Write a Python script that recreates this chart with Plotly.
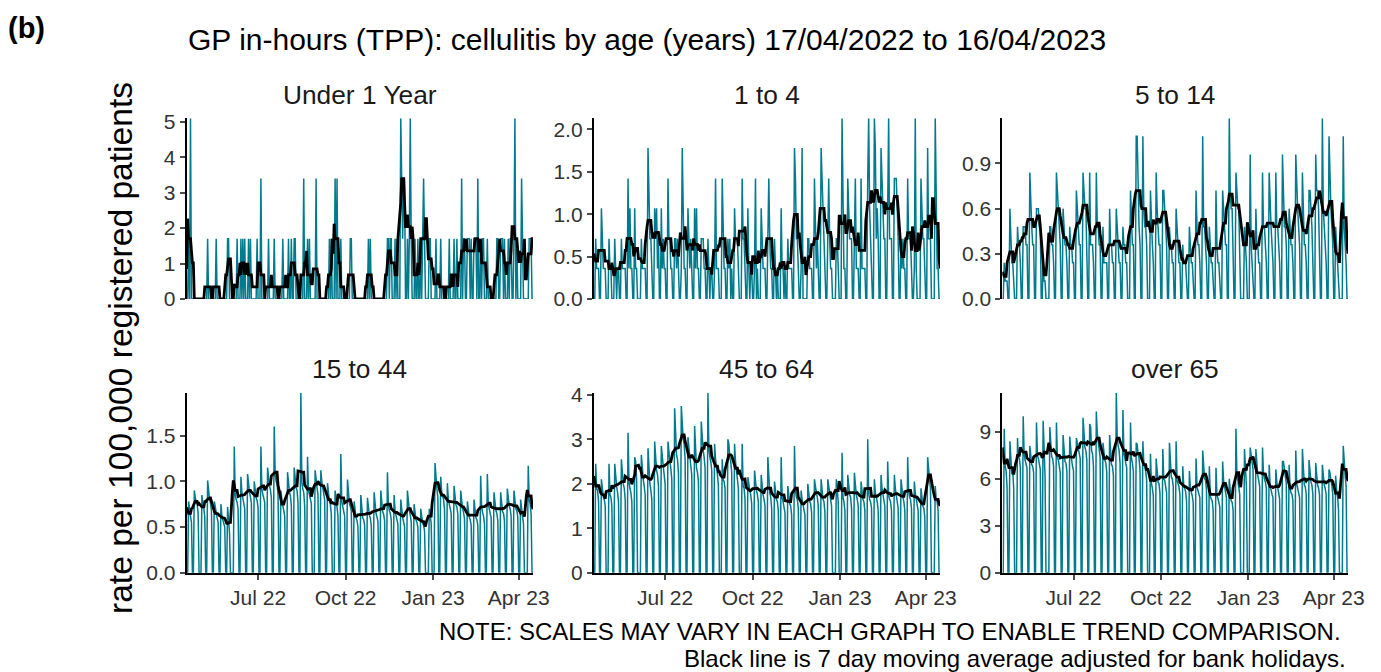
import pandas as pd
import plotly.graph_objects as go

# ---------------- data ----------------
START_DATE = "2022-04-17"
N_DAYS = 365
BANK_HOLIDAYS = ["2022-04-18", "2022-05-02", "2022-06-02", "2022-06-03", "2022-08-29",
                 "2022-09-19", "2022-12-26", "2022-12-27", "2023-01-02", "2023-04-07", "2023-04-10"]

PANEL_TITLES = ["Under 1 Year", "1 to 4", "5 to 14", "15 to 44", "45 to 64", "over 65"]

# daily rates per 100,000, one string per week (Sun..Sat), last entry = final Sunday
UNDER_1 = [
    "0 0 1.7 0 5.1 0 0", "0 0 0 0 0 0 0", "0 0 0 0 0 0 0", "0 1.7 0 0 0 0 0",
    "0 0 0 1.7 0 0 0", "0 0 0 0 0 0 0", "0 1.7 1.7 0 0 0 0", "0 0 0 0 1.7 0 0",
    "0 1.7 0 1.7 0 1.7 0", "0 0 1.7 0 1.7 0 0", "0 0 0 0 1.7 0 0", "0 3.4 0 0 0 0 0",
    "0 0 1.7 0 0 0 0", "0 1.7 0 0 0 0 0", "0 0 0 1.7 0 0 0", "0 0 1.7 0 0 1.7 0",
    "0 1.7 1.7 0 0 0 0", "0 0 0 0 3.4 0 0", "0 1.7 0 1.7 0 0 0", "0 0 0 3.4 0 0 0",
    "0 0 0 0 0 0 0", "0 0 0 1.7 0 1.7 0", "0 0 3.4 0 3.4 0 0", "0 1.7 0 0 0 0 0",
    "0 0 0 0 1.7 1.7 0", "0 0 0 0 0 0 0", "0 0 0 0 0 0 0", "0 0 1.7 0 1.7 0 0",
    "0 0 0 0 0 0 0", "0 0 0 0 0 0 0", "0 1.7 1.7 0 1.7 1.7 0", "0 0 1.7 0 1.7 0 0",
    "0 5.1 3.4 1.7 3.4 3.4 0", "0 1.7 0 1.7 5.1 1.7 0", "0 0 1.7 0 0 1.7 0", "0 1.7 0 1.7 3.4 1.7 0",
    "0 0 0 1.7 1.7 0 0", "0 0 0 1.7 0 0 0", "0 1.7 0 0 0 0 0", "0 0 0 1.7 0 0 0",
    "0 1.7 0 0 1.7 0 0", "0 0 3.4 0 1.7 1.7 0", "0 1.7 1.7 1.7 0 1.7 0", "0 1.7 1.7 1.7 0 3.4 0",
    "0 1.7 0 1.7 1.7 0 0", "0 1.7 0 0 0 0 0", "0 0 0 0 1.7 1.7 0", "0 1.7 1.7 1.7 0 1.7 0",
    "0 0 1.7 0 1.7 1.7 0", "0 1.7 5.1 0 1.7 0 0", "0 0 3.4 1.7 0 0 0", "0 0 0 1.7 1.7 1.7 0",
    "0",
]

AGE_1_4 = [
    "0 0 0.71 0.36 0.36 0.36 0", "0 1.07 0.71 0.36 0.36 0.36 0", "0 0 0.71 0.36 0.36 0 0",
    "0 0.71 0.36 0 0.36 0.36 0", "0 0.71 0.36 0.36 0.36 0.36 0", "0 1.42 0.36 1.07 0.36 0.36 0",
    "0 1.07 0.36 0.36 0 0 0", "0 0.71 0.36 0.36 0.36 0.36 0", "0 1.78 1.07 0.71 0.71 0.36 0",
    "0 1.07 0.71 1.07 0.36 0.71 0", "0 1.07 0.36 0.71 0.36 0.36 0", "0 1.42 0.71 0.71 0.36 0.36 0",
    "0 0.71 0.71 0.36 0.71 0.36 0", "0 0.36 1.78 0.71 0.36 0.36 0", "0 1.07 0.71 0.36 0.71 0.36 0",
    "0 1.07 0.36 1.07 0.36 0.36 0", "0 0.71 0.71 0.71 0.36 0.36 0", "0 0.71 0.36 0 0.36 0.36 0",
    "0 0.36 1.42 0.36 0.36 0.36 0", "0 0 1.42 0.71 0.36 0.36 0", "0 0.71 0.36 0.71 0 0.36 0",
    "0 1.07 0.71 0.71 0.71 0.36 0", "0 0 1.42 0.71 0.71 0.36 0", "0 1.07 0.36 0 0.36 0.36 0",
    "0 0.36 1.42 0 0.36 0 0", "0 1.07 0.71 0.36 0.36 0.36 0", "0 0.71 1.42 0.71 0.36 0.36 0",
    "0 0.71 0.36 0 0.36 0 0", "0 1.07 0.36 0.36 0 0.36 0", "0 0.71 0.36 0.36 0.36 0.36 0",
    "0 1.78 1.42 0.71 0.71 0.36 0", "0 0.36 1.78 0 0 0 0", "0 0.71 0.71 0.36 0.36 0.36 0",
    "0 1.42 0.71 0.36 0.71 0.36 0", "0 1.78 1.42 1.07 0.71 0.36 0", "0 1.07 1.42 0.71 0.36 0.36 0",
    "0 0 0 0.71 0.71 0.36 0", "0 0 2.13 0.71 0.36 0.36 0", "0 1.42 1.07 0.71 0.71 0.71 0",
    "0 0.71 1.42 0.36 0.36 0.36 0", "0 1.42 0.36 0.36 0.36 0.36 0", "0 1.42 2.13 1.07 0.71 0.36 0",
    "0 2.13 1.78 0.71 1.07 0.71 0", "0 1.78 1.42 1.07 0.71 0.71 0", "0 1.07 2.13 0.71 0.71 0.71 0",
    "0 1.42 1.42 1.42 1.07 0.71 0", "0 0.71 0.36 0.71 0.36 0.36 0", "0 1.42 0.71 0.71 0.71 0.36 0",
    "0 0.36 2.13 0.36 0 0 0", "0 1.42 1.07 0.71 0.71 0.36 0", "0 1.78 0.71 0.71 0.71 0 0",
    "0 0 2.13 0.71 0.36 0.36 0", "0",
]

AGE_5_14 = [
    "0 0 0.24 0.12 0.12 0.12 0", "0 0.6 0.36 0.24 0.24 0.12 0", "0 0 0.48 0.36 0.36 0.24 0",
    "0 0.48 0.48 0.48 0.36 0.36 0", "0 0.84 0.6 0.48 0.36 0.36 0", "0 0.6 0.6 0.6 0.48 0.48 0",
    "0 0.24 0.12 0.12 0 0 0", "0 0.48 0.48 0.36 0.36 0.24 0", "0 0.84 0.72 0.6 0.48 0.36 0",
    "0 0.6 0.48 0.36 0.36 0.24 0", "0 0.48 0.36 0.36 0.24 0.24 0", "0 0.72 0.6 0.48 0.36 0.36 0",
    "0 0.84 0.72 0.6 0.6 0.36 0", "0 0.84 0.36 0.36 0.36 0.24 0", "0 0.84 0.48 0.48 0.36 0.36 0",
    "0 0.48 0.24 0.24 0.24 0.24 0", "0 0.6 0.36 0.36 0.24 0.24 0", "0 0.6 0.48 0.36 0.24 0.24 0",
    "0 0.48 0.36 0.36 0.24 0.24 0", "0 0 0.72 0.48 0.36 0.36 0", "0 1.08 1.08 0.6 0.48 0.36 0",
    "0 1.08 0.6 0.48 0.48 0.36 0", "0 0 0.72 0.48 0.36 0.24 0", "0 0.84 0.6 0.48 0.36 0.36 0",
    "0 0.72 0.72 0.6 0.48 0.36 0", "0 0.48 0.36 0.36 0.24 0.24 0", "0 0.6 0.48 0.36 0.24 0.24 0",
    "0 0.36 0.24 0.24 0.24 0.12 0", "0 0.48 0.36 0.24 0.24 0.12 0", "0 0.72 0.48 0.36 0.36 0.24 0",
    "0 1.08 0.48 0.48 0.36 0.24 0", "0 0.48 0.36 0.24 0.24 0.12 0", "0 0.72 0.36 0.24 0.24 0.12 0",
    "0 0.72 0.6 0.48 0.36 0.36 0", "0 1.2 0.72 0.6 0.6 0.36 0", "0 0.84 0.72 0.6 0.6 0.36 0",
    "0 0 0 0.48 0.36 0.24 0", "0 0 0.96 0.36 0.24 0.12 0", "0 0.6 0.36 0.36 0.24 0.24 0",
    "0 0.84 0.48 0.48 0.36 0.24 0", "0 0.84 0.6 0.48 0.36 0.24 0", "0 0.84 0.48 0.48 0.36 0.24 0",
    "0 0.96 0.6 0.48 0.48 0.36 0", "0 0.6 0.48 0.36 0.36 0.24 0", "0 0.96 0.72 0.6 0.48 0.36 0",
    "0 0.84 0.48 0.36 0.36 0.24 0", "0 0.72 0.72 0.6 0.48 0.24 0", "0 0.96 0.72 0.72 0.6 0.36 0",
    "0 1.2 0.6 0.48 0.36 0.24 0", "0 1.08 0.72 0.6 0.48 0.36 0", "0 0.48 0.36 0.24 0.12 0 0",
    "0 0 1.08 0.48 0.36 0.24 0", "0",
]

AGE_15_44 = [
    "0 0 0.78 0.65 0.62 0.55 0", "0 0.9 0.82 0.78 0.75 0.65 0", "0 0 0.85 0.72 0.7 0.61 0",
    "0 1.01 0.85 0.8 0.76 0.68 0", "0 0.78 0.7 0.62 0.6 0.55 0", "0 0.75 0.62 0.58 0.55 0.5 0",
    "0 0.72 0.5 0.43 0 0 0", "0 1.38 0.85 0.8 0.77 0.7 0", "0 1.05 0.88 0.82 0.8 0.7 0",
    "0 1.08 0.95 0.88 0.83 0.76 0", "0 1.0 0.88 0.82 0.79 0.71 0", "0 1.38 0.92 0.86 0.82 0.77 0",
    "0 1.15 1.02 0.95 0.91 0.82 0", "0 1.6 1.08 1.0 0.97 0.85 0", "0 0.9 0.8 0.73 0.7 0.62 0",
    "0 1.1 0.95 0.88 0.84 0.73 0", "0 1.15 1.0 0.93 0.9 0.77 0", "0 1.97 1.0 0.92 0.88 0.73 0",
    "0 1.27 0.9 0.85 0.82 0.76 0", "0 0 1.12 0.98 0.93 0.85 0", "0 1.12 1.0 0.93 0.9 0.8 0",
    "0 0.98 0.85 0.78 0.75 0.64 0", "0 0 0.9 0.76 0.72 0.62 0", "0 1.3 0.78 0.72 0.68 0.62 0",
    "0 1.02 0.82 0.76 0.72 0.68 0", "0 0.78 0.65 0.6 0.57 0.5 0", "0 0.85 0.65 0.6 0.58 0.52 0",
    "0 0.82 0.68 0.63 0.6 0.52 0", "0 0.88 0.7 0.65 0.61 0.56 0", "0 0.9 0.72 0.67 0.64 0.57 0",
    "0 1.1 0.74 0.68 0.65 0.58 0", "0 0.85 0.68 0.64 0.6 0.53 0", "0 0.8 0.64 0.6 0.56 0.5 0",
    "0 0.9 0.73 0.68 0.63 0.56 0", "0 0.75 0.62 0.58 0.55 0.5 0", "0 0.7 0.58 0.54 0.52 0.46 0",
    "0 0 0 0.7 0.62 0.54 0", "0 0 1.2 0.98 0.92 0.82 0", "0 1.05 0.88 0.83 0.8 0.69 0",
    "0 0.98 0.8 0.75 0.72 0.65 0", "0 0.95 0.8 0.74 0.72 0.64 0", "0 0.9 0.75 0.7 0.66 0.59 0",
    "0 0.78 0.66 0.61 0.58 0.52 0", "0 0.8 0.65 0.6 0.58 0.52 0", "0 1.06 0.72 0.66 0.62 0.54 0",
    "0 1.08 0.75 0.7 0.67 0.6 0", "0 0.88 0.72 0.68 0.65 0.57 0", "0 0.88 0.73 0.67 0.65 0.57 0",
    "0 0.92 0.78 0.73 0.7 0.62 0", "0 0.9 0.76 0.7 0.68 0.61 0", "0 0.8 0.68 0.62 0.54 0 0",
    "0 0 1.17 0.8 0.75 0.64 0", "0",
]

AGE_45_64 = [
    "0 0 2.45 1.9 1.85 1.6 0", "0 2.1 1.8 1.7 1.65 1.5 0", "0 0 2.45 1.75 1.7 1.5 0",
    "0 2.45 2.1 1.95 1.8 1.6 0", "0 2.55 2.15 2.0 1.9 1.65 0", "0 3.15 2.05 1.9 1.8 1.6 0",
    "0 2.6 2.5 2.1 0 0 0", "0 2.65 2.3 2.1 1.95 1.75 0", "0 2.8 2.2 2.0 1.85 1.65 0",
    "0 2.95 2.6 2.3 2.2 1.95 0", "0 2.85 2.55 2.4 2.2 2.0 0", "0 2.95 2.6 2.5 2.35 2.1 0",
    "0 3.7 2.85 2.65 2.55 2.25 0", "0 3.75 3.3 3.0 2.9 2.55 0", "0 3.05 2.75 2.6 2.4 2.2 0",
    "0 3.3 2.55 2.35 2.25 2.05 0", "0 3.4 2.9 2.75 2.6 2.35 0", "0 4.05 2.8 2.6 2.5 2.3 0",
    "0 2.9 2.55 2.4 2.2 1.95 0", "0 0 2.55 2.1 2.05 1.9 0", "0 3.0 2.9 2.6 2.5 2.25 0",
    "0 2.9 2.5 2.3 2.15 1.9 0", "0 0 2.9 1.95 1.9 1.65 0", "0 2.15 1.95 1.85 1.75 1.55 0",
    "0 2.3 2.0 1.85 1.75 1.6 0", "0 2.2 1.9 1.75 1.65 1.5 0", "0 2.6 1.95 1.8 1.7 1.45 0",
    "0 2.05 1.8 1.65 1.6 1.4 0", "0 2.6 1.7 1.6 1.5 1.35 0", "0 1.95 1.7 1.55 1.5 1.3 0",
    "0 2.85 1.85 1.7 1.65 1.45 0", "0 1.85 1.65 1.5 1.45 1.3 0", "0 2.0 1.75 1.6 1.55 1.35 0",
    "0 2.1 1.9 1.8 1.7 1.5 0", "0 2.1 1.8 1.65 1.6 1.35 0", "0 2.1 1.95 1.75 1.7 1.5 0",
    "0 0 0 2.1 1.85 1.6 0", "0 0 2.7 1.7 1.6 1.4 0", "0 2.2 1.9 1.75 1.7 1.45 0",
    "0 2.25 1.85 1.75 1.65 1.5 0", "0 2.05 1.8 1.65 1.6 1.4 0", "0 3.0 1.8 1.65 1.6 1.45 0",
    "0 2.1 1.8 1.7 1.6 1.4 0", "0 2.2 1.9 1.75 1.65 1.5 0", "0 2.5 1.75 1.65 1.6 1.4 0",
    "0 2.2 1.9 1.7 1.65 1.45 0", "0 2.1 1.8 1.7 1.6 1.4 0", "0 2.6 1.85 1.7 1.65 1.45 0",
    "0 2.05 1.8 1.65 1.6 1.4 0", "0 1.9 1.65 1.5 1.45 1.25 0", "0 2.6 2.2 2.1 1.9 0 0",
    "0 0 1.95 1.65 1.6 1.4 0", "0",
]

OVER_65 = [
    "0 0 9.2 6.8 6.5 5.5 0", "0 8.4 6.9 6.3 6.5 5.4 0", "0 0 8.6 7.4 7.3 6.7 0",
    "0 10.0 7.6 7.2 7.0 6.7 0", "0 8.1 7.3 6.9 6.8 6.4 0", "0 9.6 7.5 7.3 7.0 6.6 0",
    "0 9.7 7.2 6.2 0 0 0", "0 9.3 8.2 7.4 7.3 6.8 0", "0 9.6 7.4 7.2 6.9 6.4 0",
    "0 8.8 7.6 7.1 7.0 6.5 0", "0 8.7 7.8 7.2 6.8 6.5 0", "0 8.6 8.3 8.1 7.7 7.3 0",
    "0 9.9 8.6 8.0 7.8 7.2 0", "0 9.5 9.3 7.8 7.6 6.8 0", "0 10.3 8.9 8.4 8.0 7.4 0",
    "0 8.3 7.6 7.2 7.0 6.4 0", "0 8.8 7.3 6.9 6.8 6.2 0", "0 11.5 8.6 8.1 7.8 7.0 0",
    "0 10.4 7.7 7.2 7.0 6.7 0", "0 0 9.6 7.3 7.0 6.5 0", "0 8.3 8.2 7.6 7.3 6.6 0",
    "0 8.4 7.0 6.7 6.5 5.9 0", "0 0 7.6 5.7 5.4 4.9 0", "0 7.3 6.1 5.8 5.7 5.1 0",
    "0 7.9 6.0 5.9 5.6 5.1 0", "0 8.3 6.6 6.1 6.0 5.5 0", "0 8.4 5.9 5.7 5.5 5.0 0",
    "0 6.8 5.6 5.3 5.2 4.6 0", "0 6.5 5.4 5.2 4.9 4.5 0", "0 7.3 5.5 5.3 5.1 4.8 0",
    "0 7.8 6.5 6.0 5.9 5.3 0", "0 6.8 4.9 4.7 4.6 4.0 0", "0 6.7 5.0 4.6 4.5 4.2 0",
    "0 7.1 5.9 5.5 5.2 4.8 0", "0 6.0 4.9 4.6 4.5 4.0 0", "0 9.2 6.4 5.9 5.5 5.0 0",
    "0 0 0 7.9 6.3 5.6 0", "0 0 8.0 7.4 7.2 6.6 0", "0 7.9 6.5 6.2 5.9 5.5 0",
    "0 8.0 6.3 6.0 5.8 5.4 0", "0 6.9 5.6 5.2 5.0 4.8 0", "0 6.6 5.8 5.3 5.1 4.7 0",
    "0 7.1 7.1 6.5 6.1 5.7 0", "0 6.9 5.4 5.1 5.0 4.6 0", "0 7.8 5.7 5.4 5.3 4.8 0",
    "0 7.9 6.0 5.6 5.5 5.0 0", "0 7.2 6.4 5.8 5.6 5.0 0", "0 7.0 6.0 5.6 5.4 5.0 0",
    "0 6.9 6.1 5.6 5.4 5.0 0", "0 6.6 6.4 5.9 5.6 5.0 0", "0 6.2 5.3 4.9 4.0 0 0",
    "0 0 8.1 6.6 6.2 5.5 0", "0",
]

PANEL_DATA = [UNDER_1, AGE_1_4, AGE_5_14, AGE_15_44, AGE_45_64, OVER_65]

Y_TICKS = [[0, 1, 2, 3, 4, 5], [0, 0.5, 1.0, 1.5, 2.0], [0, 0.3, 0.6, 0.9],
           [0, 0.5, 1.0, 1.5], [0, 1, 2, 3, 4], [0, 3, 6, 9]]
Y_TICK_FORMAT = ["d", ".1f", ".1f", ".1f", "d", "d"]

X_TICK_VALS = ["2022-07-01", "2022-10-01", "2023-01-01", "2023-04-01"]
X_TICK_TEXT = ["Jul 22", "Oct 22", "Jan 23", "Apr 23"]

TITLE = "GP in-hours (TPP): cellulitis by age (years) 17/04/2022 to 16/04/2023"
Y_LABEL = "rate per 100,000 registered patients"
NOTE_1 = "NOTE: SCALES MAY VARY IN EACH GRAPH TO ENABLE TREND COMPARISON."
NOTE_2 = "Black line is 7 day moving average adjusted for bank holidays."

# ---------------- styling ----------------
W, H = 1381, 672
TEAL = "#007a8d"
FONT = "Liberation Sans, Arial, Helvetica, sans-serif"
TEXT_COL = "#1a1a1a"
TICK_COL = "#4d4d4d"

X_DOMAINS_PX = [(186.7, 533.0), (593.8, 940.0), (1002.3, 1348.0)]
Y_DOMAINS_PX = [(118.3, 299.0), (392.7, 572.7)]  # (top, bottom)

dates = pd.date_range(START_DATE, periods=N_DAYS, freq="D")
bh = set(pd.to_datetime(BANK_HOLIDAYS))
working = pd.Series([1.0 if (d.weekday() < 5 and d not in bh) else 0.0 for d in dates], index=dates)

fig = go.Figure()
layout = dict(
    width=W, height=H, autosize=False,
    margin=dict(l=0, r=0, t=0, b=0, pad=0, autoexpand=False),
    paper_bgcolor="white", plot_bgcolor="white", showlegend=False,
    font=dict(family=FONT, color=TEXT_COL),
)
annotations = []

for i, weeks in enumerate(PANEL_DATA):
    vals = [float(v) for w in weeks for v in w.split()]
    s = pd.Series(vals, index=dates)
    ma = s.rolling(7, center=True, min_periods=1).sum() / working.rolling(7, center=True, min_periods=1).sum()
    row, col = divmod(i, 3)
    ax = "" if i == 0 else str(i + 1)
    fig.add_trace(go.Scatter(x=dates, y=s.values, mode="lines",
                             line=dict(color=TEAL, width=1.5),
                             xaxis="x" + ax, yaxis="y" + ax, hoverinfo="skip"))
    fig.add_trace(go.Scatter(x=dates, y=ma.values, mode="lines",
                             line=dict(color="black", width=2.8),
                             xaxis="x" + ax, yaxis="y" + ax, hoverinfo="skip"))
    x0, x1 = X_DOMAINS_PX[col]
    ytop, ybot = Y_DOMAINS_PX[row]
    bottom_row = row == 1
    layout["xaxis" + ax] = dict(
        domain=[x0 / W, x1 / W], anchor="y" + ax, type="date", automargin=False,
        range=[dates[0], dates[-1]],
        showgrid=False, zeroline=False,
        showline=bottom_row, linecolor="black", linewidth=2,
        ticks="outside" if bottom_row else "", ticklen=5, tickwidth=2, tickcolor=TICK_COL,
        tickvals=X_TICK_VALS, ticktext=X_TICK_TEXT, showticklabels=bottom_row,
        tickfont=dict(size=21, color="#333333", family=FONT),
    )
    layout["yaxis" + ax] = dict(
        domain=[1 - ybot / H, 1 - ytop / H], anchor="x" + ax, automargin=False,
        range=[0, max(vals)],
        showgrid=False, zeroline=False,
        showline=True, linecolor="black", linewidth=2,
        ticks="outside", ticklen=5, tickwidth=2, tickcolor=TICK_COL,
        tickvals=Y_TICKS[i], tickformat=Y_TICK_FORMAT[i],
        tickfont=dict(size=21, color="#333333", family=FONT),
    )
    annotations.append(dict(
        text=PANEL_TITLES[i], x=(x0 + x1) / 2 / W, y=1 - (95 if row == 0 else 369) / H,
        xref="paper", yref="paper", xanchor="center", yanchor="middle",
        showarrow=False, font=dict(size=26.3, color=TEXT_COL, family=FONT),
    ))

annotations += [
    dict(text="<b>(b)</b>", x=6 / W, y=1 - 28 / H, xref="paper", yref="paper",
         xanchor="left", yanchor="middle", showarrow=False,
         font=dict(size=29, color="black", family=FONT)),
    dict(text=TITLE, x=646.5 / W, y=1 - 39 / H, xref="paper", yref="paper",
         xanchor="center", yanchor="middle", showarrow=False,
         font=dict(size=30, color="black", family=FONT)),
    dict(text=Y_LABEL, x=120 / W, y=1 - 348 / H, xref="paper", yref="paper",
         xanchor="center", yanchor="middle", textangle=-90, showarrow=False,
         font=dict(size=33.6, color="black", family=FONT)),
    dict(text=NOTE_1, x=1342 / W, y=1 - 631 / H, xref="paper", yref="paper",
         xanchor="right", yanchor="middle", showarrow=False, borderpad=0,
         font=dict(size=24, color="black", family=FONT)),
    dict(text=NOTE_2, x=1347 / W, y=1 - 658 / H, xref="paper", yref="paper",
         xanchor="right", yanchor="middle", showarrow=False, borderpad=0,
         font=dict(size=24, color="black", family=FONT)),
]
layout["annotations"] = annotations
fig.update_layout(**layout)
fig.write_html("out.html", config={"displayModeBar": False},
               post_script="document.body.style.margin='0';document.body.style.padding='0';")
